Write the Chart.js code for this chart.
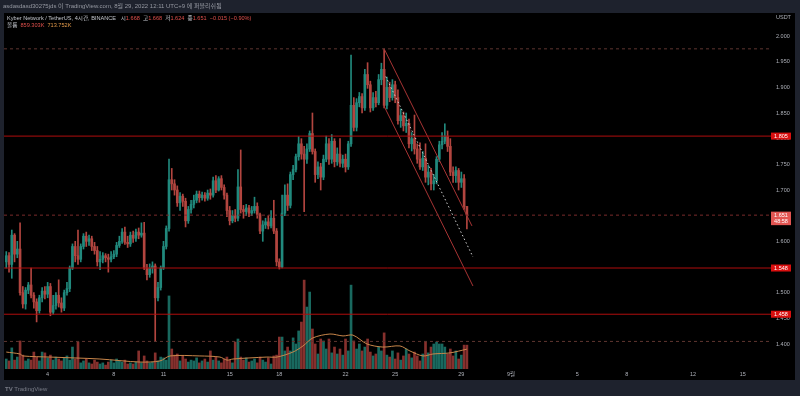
<!DOCTYPE html>
<html>
<head>
<meta charset="utf-8">
<script src="https://cdn.jsdelivr.net/npm/chart.js@4.4.0/dist/chart.umd.min.js"></script>
<style>
html, body { margin: 0; padding: 0; background: #1e222d; }
#wrap { position: relative; width: 800px; height: 396px; overflow: hidden; }
canvas { position: absolute; left: 0; top: 0; }
.t { position: absolute; font-family: 'Liberation Sans', 'Noto Sans CJK KR', sans-serif; white-space: nowrap; line-height: 1; }
.r { color: #e0504c; }
.o { color: #e39a4a; }
</style>
</head>
<body>
<div id="wrap">
  <canvas id="chart" width="800" height="396"></canvas>
  <div class="t" style="left:3px;top:3px;font-size:6px;color:#9598a1">asdasdasd30275jds 이 TradingView.com, 8월 29, 2022 12:11 UTC+9 에 퍼블리쉬됨</div>
  <div class="t" style="left:7px;top:15.5px;font-size:5.6px;color:#c3c6cd">Kyber Network / TetherUS, 4시간, BINANCE&nbsp;&nbsp; 시<span class="r">1.668</span>&nbsp; 고<span class="r">1.668</span>&nbsp; 저<span class="r">1.624</span>&nbsp; 종<span class="r">1.651</span>&nbsp; <span class="r">−0.015 (−0.90%)</span></div>
  <div class="t" style="left:7px;top:22.5px;font-size:5.6px;color:#c3c6cd">볼륨&nbsp; <span class="r">859.303K</span>&nbsp; <span class="o">713.752K</span></div>
  <div class="t" style="left:776px;top:15px;font-size:5.5px;color:#aeb1b9">USDT</div>
  <div class="t" style="left:5px;top:386px;font-size:6px;color:#787b86"><b>TV</b> TradingView</div>
</div>
<script>
// 4h candles, Aug 1 12:00 -> Aug 29 08:00 (UTC+9), x in days from Aug 1 00:00
const firstCandleDay = 0.5;
const candleStep = 1 / 6;

const opens = [
  1.560,1.572,1.555,1.612,1.575,1.585,1.500,1.478,1.505,1.515,1.495,1.482,
  1.465,1.490,1.503,1.497,1.512,1.462,1.475,1.495,1.480,1.470,1.500,1.508,
  1.548,1.590,1.572,1.565,1.590,1.610,1.600,1.605,1.590,1.582,1.560,1.565,
  1.572,1.568,1.565,1.570,1.575,1.592,1.600,1.618,1.598,1.595,1.612,1.606,
  1.618,1.612,1.616,1.548,1.535,1.548,1.552,1.490,1.510,1.548,1.590,1.625,
  1.720,1.712,1.700,1.675,1.688,1.678,1.640,1.662,1.672,1.680,1.692,1.685,
  1.690,1.684,1.694,1.690,1.718,1.700,1.722,1.705,1.690,1.660,1.640,1.650,
  1.645,1.706,1.662,1.658,1.665,1.655,1.660,1.668,1.652,1.620,1.632,1.638,
  1.630,1.645,1.620,1.560,1.550,1.655,1.690,1.670,1.730,1.740,1.765,1.790,
  1.770,1.760,1.780,1.810,1.775,1.730,1.745,1.725,1.760,1.790,1.760,1.795,
  1.755,1.770,1.752,1.760,1.745,1.790,1.865,1.822,1.870,1.882,1.860,1.925,
  1.905,1.860,1.880,1.870,1.915,1.935,1.865,1.900,1.880,1.905,1.880,1.835,
  1.845,1.825,1.830,1.790,1.800,1.780,1.760,1.745,1.762,1.725,1.735,1.712,
  1.718,1.760,1.788,1.795,1.805,1.785,1.735,1.728,1.738,1.715,1.722,1.668
];
const highs = [
  1.580,1.578,1.622,1.615,1.600,1.636,1.512,1.510,1.520,1.548,1.500,1.488,
  1.495,1.510,1.512,1.520,1.518,1.495,1.500,1.525,1.490,1.505,1.520,1.552,
  1.595,1.600,1.622,1.595,1.615,1.618,1.612,1.610,1.598,1.590,1.580,1.578,
  1.576,1.575,1.580,1.582,1.598,1.610,1.625,1.628,1.610,1.618,1.620,1.624,
  1.626,1.636,1.637,1.555,1.556,1.560,1.556,1.520,1.552,1.600,1.630,1.760,
  1.742,1.720,1.708,1.695,1.692,1.684,1.668,1.680,1.690,1.698,1.698,1.696,
  1.695,1.700,1.702,1.725,1.728,1.726,1.728,1.710,1.694,1.668,1.660,1.662,
  1.740,1.778,1.670,1.672,1.670,1.668,1.686,1.675,1.655,1.640,1.645,1.650,
  1.660,1.680,1.625,1.566,1.690,1.710,1.712,1.735,1.748,1.770,1.804,1.800,
  1.785,1.790,1.815,1.850,1.780,1.755,1.752,1.768,1.805,1.800,1.808,1.800,
  1.782,1.800,1.768,1.770,1.795,1.963,1.880,1.878,1.890,1.888,1.935,1.948,
  1.912,1.890,1.892,1.925,1.947,1.975,1.920,1.910,1.915,1.912,1.895,1.858,
  1.852,1.850,1.838,1.812,1.846,1.790,1.792,1.775,1.790,1.748,1.742,1.730,
  1.765,1.795,1.812,1.829,1.815,1.800,1.745,1.745,1.742,1.735,1.730,1.668
];
const lows = [
  1.548,1.540,1.528,1.560,1.568,1.495,1.470,1.468,1.498,1.490,1.470,1.443,
  1.460,1.482,1.488,1.490,1.455,1.458,1.468,1.472,1.462,1.465,1.495,1.502,
  1.545,1.560,1.555,1.560,1.585,1.590,1.592,1.582,1.575,1.552,1.545,1.558,
  1.560,1.540,1.560,1.566,1.570,1.588,1.596,1.594,1.588,1.590,1.598,1.600,
  1.605,1.608,1.545,1.525,1.530,1.538,1.405,1.484,1.505,1.545,1.585,1.620,
  1.700,1.690,1.668,1.660,1.668,1.628,1.635,1.655,1.665,1.675,1.676,1.680,
  1.678,1.680,1.682,1.686,1.695,1.698,1.700,1.682,1.648,1.632,1.636,1.638,
  1.640,1.655,1.645,1.650,1.648,1.650,1.655,1.645,1.615,1.600,1.625,1.624,
  1.626,1.615,1.552,1.546,1.548,1.650,1.660,1.665,1.720,1.735,1.758,1.760,
  1.658,1.752,1.775,1.770,1.715,1.722,1.700,1.720,1.755,1.750,1.752,1.745,
  1.748,1.745,1.744,1.735,1.740,1.785,1.815,1.815,1.862,1.850,1.855,1.898,
  1.852,1.855,1.862,1.866,1.905,1.860,1.858,1.872,1.875,1.870,1.828,1.822,
  1.815,1.812,1.782,1.776,1.770,1.752,1.740,1.738,1.715,1.710,1.700,1.700,
  1.712,1.755,1.780,1.790,1.775,1.728,1.715,1.715,1.700,1.705,1.662,1.624
];
const closes = [
  1.572,1.555,1.612,1.575,1.585,1.500,1.478,1.505,1.515,1.495,1.482,1.465,
  1.490,1.503,1.497,1.512,1.462,1.475,1.495,1.480,1.470,1.500,1.508,1.548,
  1.590,1.572,1.565,1.590,1.610,1.600,1.605,1.590,1.582,1.560,1.565,1.572,
  1.568,1.565,1.570,1.575,1.592,1.600,1.618,1.598,1.595,1.612,1.606,1.618,
  1.612,1.616,1.548,1.535,1.548,1.552,1.490,1.510,1.548,1.590,1.625,1.720,
  1.712,1.700,1.675,1.688,1.678,1.640,1.662,1.672,1.680,1.692,1.685,1.690,
  1.684,1.694,1.690,1.718,1.700,1.722,1.705,1.690,1.660,1.640,1.650,1.645,
  1.706,1.662,1.658,1.665,1.655,1.660,1.668,1.652,1.620,1.632,1.638,1.630,
  1.645,1.620,1.560,1.550,1.655,1.690,1.670,1.730,1.740,1.765,1.790,1.770,
  1.760,1.780,1.810,1.775,1.730,1.745,1.725,1.760,1.790,1.760,1.795,1.755,
  1.770,1.752,1.760,1.745,1.790,1.865,1.822,1.870,1.882,1.860,1.925,1.905,
  1.860,1.880,1.870,1.915,1.935,1.865,1.900,1.880,1.905,1.880,1.835,1.845,
  1.825,1.830,1.790,1.800,1.780,1.760,1.745,1.762,1.725,1.735,1.712,1.718,
  1.760,1.788,1.795,1.805,1.785,1.735,1.728,1.738,1.715,1.722,1.668,1.651
];
// volume in thousands
const volumes = [
  360,290,760,320,430,1010,500,290,360,320,610,430,
  290,610,580,400,500,320,430,360,290,400,470,320,
  790,360,970,220,290,360,220,180,320,250,180,220,
  140,250,320,220,360,290,250,320,180,220,180,250,
  650,220,470,290,220,250,580,290,430,400,320,2630,
  720,500,540,290,470,360,250,320,290,400,220,290,
  360,250,650,320,430,290,220,360,430,320,220,970,
  1080,430,320,400,250,290,360,220,430,320,250,400,
  180,470,500,1150,1150,650,790,650,1120,900,1370,1690,
  3200,2230,2770,1440,900,540,1080,1010,720,1080,580,790,
  540,720,500,1080,650,3020,1010,720,900,650,790,1080,
  610,470,540,790,650,1300,500,430,650,360,580,320,
  470,720,540,400,610,470,290,540,970,580,790,900,
  970,900,900,790,540,720,470,650,360,500,860,859
];
// volume moving average
const maDays = [0.5,1.33,1.51,3.14,6.16,8.58,9.79,10.39,12.2,13.41,13.84,14.2,16.25,16.86,17.82,18.43,19.03,20.06,20.85,21.45,22.3,23.26,24.29,24.89,25.68,26.28,27.31,28.33];
const maValues = [610,540,470,430,360,250,290,470,470,430,320,360,430,430,610,830,1120,1260,1190,1220,900,790,830,650,470,540,580,714];

const levels = [1.805, 1.548, 1.458];
const highLow = [1.975, 1.405];
const lastPrice = 1.651;
const countdown = '48:58';
const channelUpper = [{ x: 23.34, y: 1.9745 }, { x: 28.64, y: 1.630 }];
const channelLower = [{ x: 23.34, y: 1.8626 }, { x: 28.70, y: 1.513 }];
const projection = [{ x: 23.43, y: 1.921 }, { x: 28.70, y: 1.5696 }];

const priceTicks = [1.40,1.45,1.50,1.55,1.60,1.65,1.70,1.75,1.80,1.85,1.90,1.95,2.00];
const tickDays = [3,7,10,14,17,21,24,28,31,35,38,42,45];
const tickLabels = ['4','8','11','15','18','22','25','29','9월','5','8','12','15'];

const xMin = 0.3625, xMax = 46.71;
const UP = '#21897d', DOWN = '#b2453f';
const VUP = '#19695f', VDOWN = '#86302d';
const FONT = "'Liberation Sans', 'Noto Sans CJK KR', sans-serif";

const times = opens.map((_, i) => firstCandleDay + i * candleStep);
const isUp = opens.map((o, i) => closes[i] >= o);

function hline(v, color, dash) {
    return {
        type: 'line', data: [{ x: xMin, y: v }, { x: xMax, y: v }],
        borderColor: color, borderWidth: 1, borderDash: dash || [],
        pointRadius: 0, order: 0
    };
}

const bgPlugin = {
    id: 'bg',
    beforeDraw(chart) {
        const ctx = chart.ctx;
        ctx.save();
        ctx.fillStyle = '#1e222d';
        ctx.fillRect(0, 0, 800, 396);
        ctx.fillStyle = '#000';
        ctx.fillRect(4, 13, 791, 367);
        ctx.restore();
    },
    afterDraw(chart) {
        const ctx = chart.ctx;
        const y = chart.scales.y;
        const left = chart.chartArea.right;
        ctx.save();
        ctx.textAlign = 'center';
        ctx.textBaseline = 'middle';
        ctx.font = '5.5px ' + FONT;
        levels.forEach(v => {
            const py = y.getPixelForValue(v);
            ctx.fillStyle = '#d90f0f';
            ctx.fillRect(left, py - 3.5, 20, 7);
            ctx.fillStyle = '#fff';
            ctx.fillText(v.toFixed(3), left + 10, py + 0.5);
        });
        const pc = y.getPixelForValue(lastPrice);
        ctx.fillStyle = '#e25552';
        ctx.fillRect(left, pc - 3.5, 20, 13.5);
        ctx.fillStyle = '#fff';
        ctx.fillText(lastPrice.toFixed(3), left + 10, pc + 0.5);
        ctx.fillText(countdown, left + 10, pc + 6.5);
        ctx.restore();
    }
};

Chart.defaults.font.family = FONT;

new Chart(document.getElementById('chart'), {
    type: 'bar',
    data: {
        datasets: [
            hline(levels[0], '#b00d0d'),
            hline(levels[1], '#b00d0d'),
            hline(levels[2], '#b00d0d'),
            hline(highLow[0], '#5e3530', [3, 3]),
            hline(highLow[1], '#5e3530', [3, 3]),
            hline(lastPrice, '#7a2b2b', [3, 3]),
            { type: 'line', data: channelUpper, borderColor: '#a83434', borderWidth: 1, pointRadius: 0, order: 0 },
            { type: 'line', data: channelLower, borderColor: '#a83434', borderWidth: 1, pointRadius: 0, order: 0 },
            { type: 'line', data: projection, borderColor: '#cfcfcf', borderWidth: 1, borderDash: [1.5, 2.5], pointRadius: 0, order: 0 },
            {
                type: 'line', yAxisID: 'yv', order: 4,
                data: maDays.map((d, i) => ({ x: d, y: maValues[i] })),
                borderColor: '#c8864a', borderWidth: 1, pointRadius: 0, tension: 0.3
            },
            {
                label: 'volume', yAxisID: 'yv', order: 5, grouped: false,
                data: times.map((t, i) => ({ x: t, y: volumes[i] })),
                backgroundColor: isUp.map(u => u ? VUP : VDOWN),
                barThickness: 2
            },
            {
                label: 'wick', order: 2, grouped: false,
                data: times.map((t, i) => ({ x: t, y: [lows[i], highs[i]] })),
                backgroundColor: isUp.map(u => u ? UP : DOWN),
                barThickness: 1
            },
            {
                label: 'body', order: 1, grouped: false, minBarLength: 1,
                data: times.map((t, i) => ({ x: t, y: [opens[i], closes[i]] })),
                backgroundColor: isUp.map(u => u ? UP : DOWN),
                barThickness: 2
            }
        ]
    },
    options: {
        responsive: false,
        animation: false,
        layout: { padding: { left: 4, right: 5, top: 13, bottom: 16 } },
        plugins: { legend: { display: false }, tooltip: { enabled: false } },
        scales: {
            x: {
                type: 'linear', min: xMin, max: xMax, offset: false,
                grid: { display: false, drawTicks: false }, border: { display: false },
                afterFit(s) { s.height = 11; },
                afterBuildTicks(s) { s.ticks = tickDays.map(v => ({ value: v })); },
                ticks: {
                    autoSkip: false, maxRotation: 0, padding: 2, color: '#aeb1b9',
                    font: { size: 5.5 },
                    callback: (v, i) => tickLabels[i]
                }
            },
            y: {
                position: 'right', min: 1.3513, max: 2.0448, beginAtZero: false,
                grid: { display: false, drawTicks: false }, border: { display: false },
                afterFit(s) { s.width = 24; },
                afterBuildTicks(s) { s.ticks = priceTicks.map(v => ({ value: v })); },
                ticks: {
                    padding: 5, color: '#aeb1b9', font: { size: 5.5 },
                    callback: v => v.toFixed(3)
                }
            },
            yv: { display: false, min: 0, max: 12816 }
        }
    },
    plugins: [bgPlugin]
});
</script>
</body>
</html>
